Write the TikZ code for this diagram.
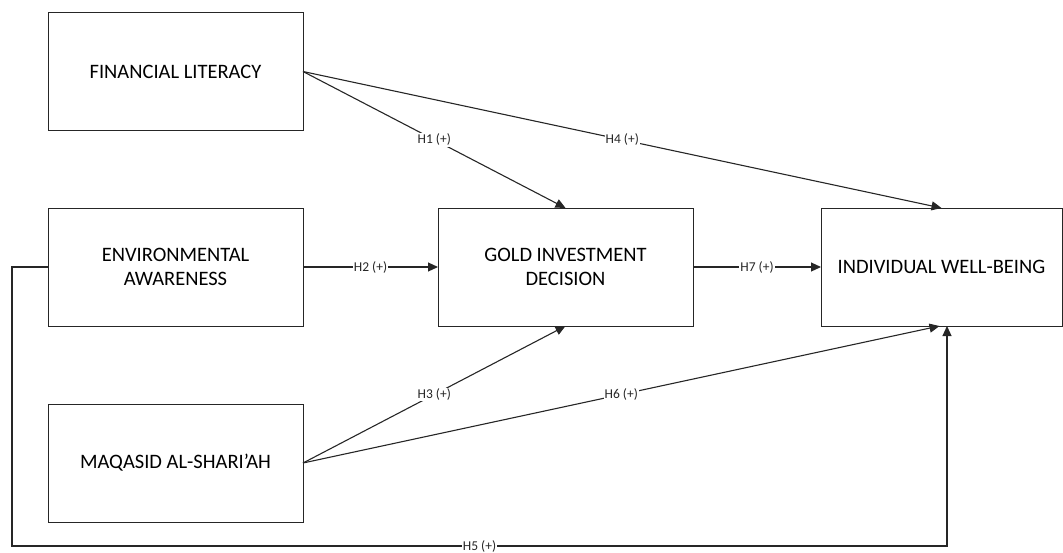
\documentclass[tikz,border=0pt]{standalone}
\usepackage{fontspec}
\setmainfont{Carlito}
\usepackage{tikz}
\usetikzlibrary{arrows.meta, positioning}

\begin{document}
\begin{tikzpicture}[
    x=1pt, y=-1pt,
    box/.style={rectangle, draw=black!85, line width=1pt, fill=white,
                align=center, outer sep=0pt,
                font=\fontsize{20.5}{23.5}\selectfont,
                minimum height=118pt, minimum width=255pt},
    arrow/.style={-{Triangle[length=10pt,width=9pt]}, line width=1.1pt, draw=black!85},
    hlabel/.style={font=\fontsize{13.5}{15}\selectfont, fill=white, inner sep=1pt, text=black!85}
]
\useasboundingbox (0,0) rectangle (1063,552);

% construct boxes
\node[box] (fl) at (175.5,71.5) {FINANCIAL LITERACY};
\node[box] (ea) at (175.5,267) {ENVIRONMENTAL\\AWARENESS};
\node[box] (mas) at (175.5,463) {MAQASID AL-SHARI'AH};
\node[box] (gid) at (565.5,267) {GOLD INVESTMENT\\DECISION};
\node[box, minimum width=241pt] (iwb) at (941.5,267) {INDIVIDUAL WELL-BEING};

% hypotheses
\draw[arrow] (fl.east) -- node[hlabel] {H1 (+)} (gid.north);
\draw[arrow] (fl.east) -- node[hlabel] {H4 (+)} (iwb.north);
\draw[arrow] (ea.east) -- node[hlabel] {H2 (+)} (gid.west);
\draw[arrow] (gid.east) -- node[hlabel] {H7 (+)} (iwb.west);
\draw[arrow] (mas.east) -- node[hlabel] {H3 (+)} (gid.south);
\draw[arrow] (mas.east) -- node[hlabel] {H6 (+)} ([xshift=-2pt]iwb.south);

% H5 around the bottom
\coordinate (h5corner) at (12,546);
\coordinate (h5end) at ([xshift=5.5pt]iwb.south);
\draw[arrow] (ea.west) -| (h5corner) -- node[hlabel] {H5 (+)} (h5corner -| h5end) -- (h5end);

\end{tikzpicture}
\end{document}
